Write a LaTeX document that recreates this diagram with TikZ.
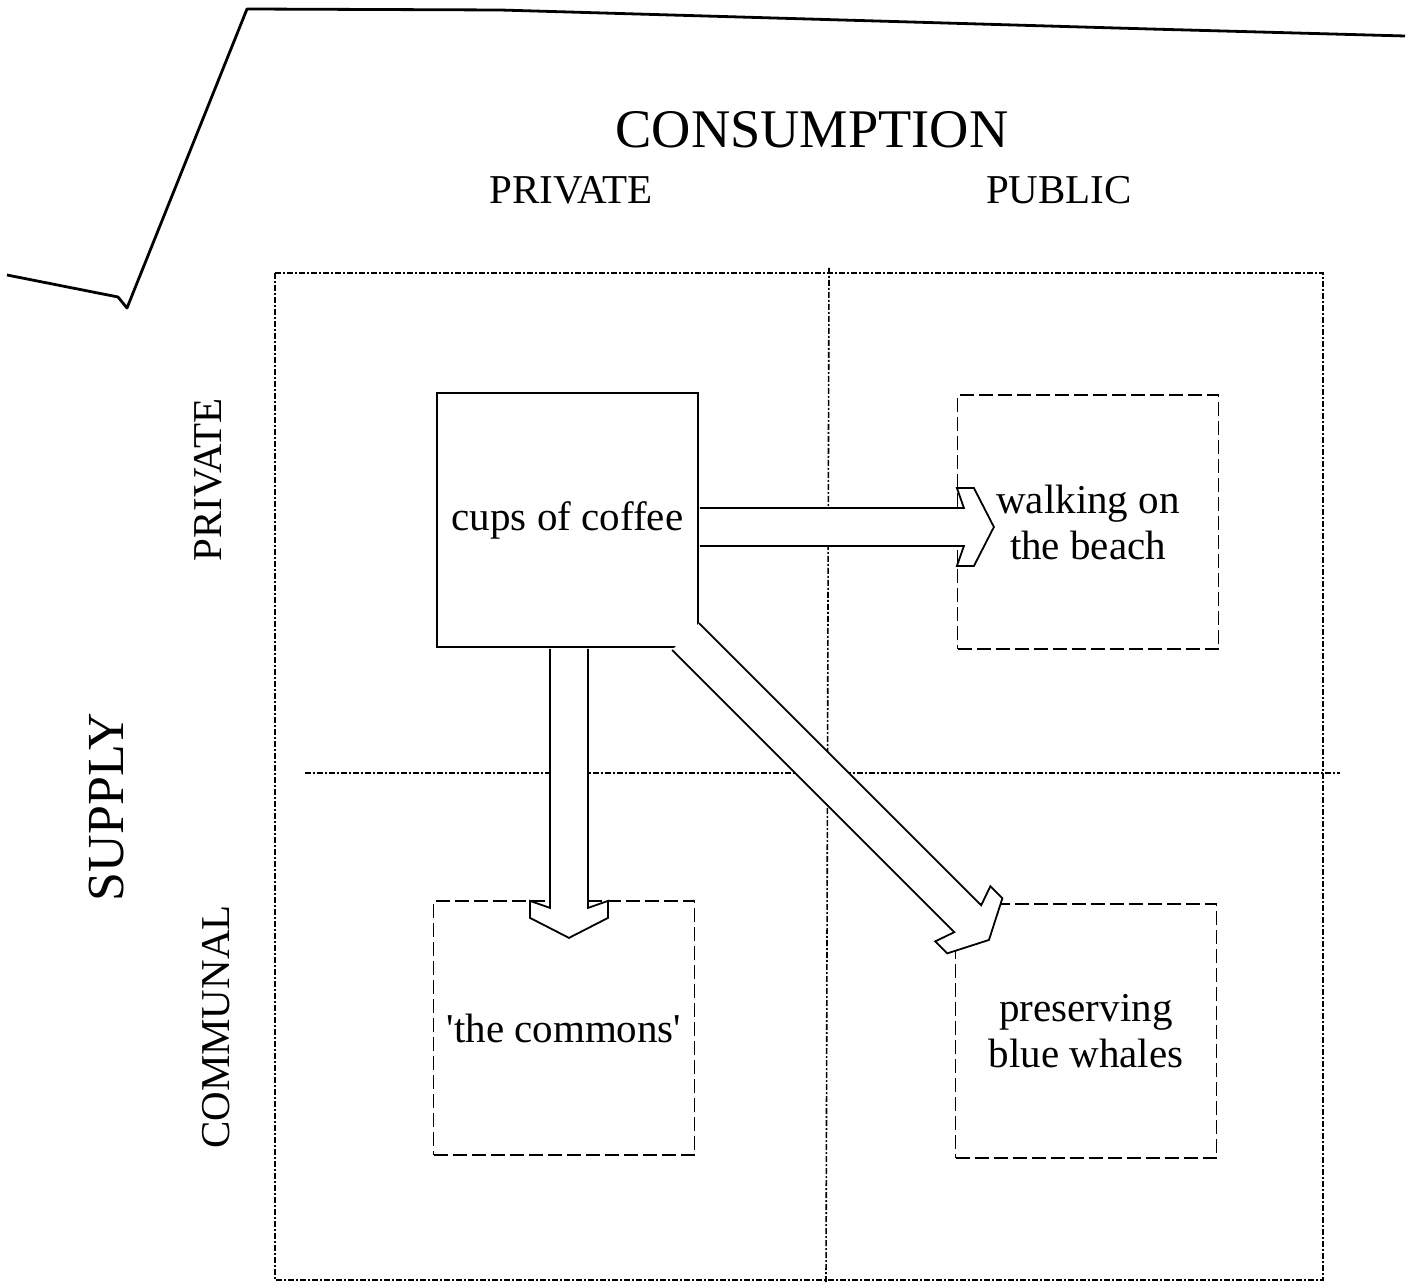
\documentclass[tikz,border=0pt]{standalone}
\usepackage{fontspec}
\setmainfont{Liberation Serif}
\usetikzlibrary{calc}

\tikzset{
  quadline/.style={line width=0.8pt, dash pattern=on 3pt off 1pt on 1pt off 1pt},
  goodbox/.style={minimum width=130.5pt, minimum height=127pt, inner sep=0pt,
    align=center, line width=0.9pt, font=\fontsize{20.5}{23}\selectfont},
  solidbox/.style={goodbox, draw},
  dashbox/.style={goodbox, draw, dash pattern=on 7pt off 2.5pt},
  headlabel/.style={inner sep=0pt, font=\fontsize{20.5}{24}\selectfont},
  titlelabel/.style={inner sep=0pt, font=\fontsize{27.2}{32}\selectfont},
  arrowbody/.style={draw, fill=white, line width=0.9pt, line join=miter},
  pics/blockarrow/.style={code={
    \path[arrowbody] (1,-19) -- (#1,-19) -- (#1-7,-39) -- (#1+10,-39) -- (#1+30,0)
      -- (#1+10,39) -- (#1-7,39) -- (#1,19) -- (1,19);
  }},
}

\begin{document}
\begin{tikzpicture}[x=0.5pt, y=-0.5pt]
      \useasboundingbox (0,0) rectangle (1414,1288);

      % Folded page edge
      \draw[line width=1.4pt, line join=round] (7,275) -- (118,297) -- (127,308)
        -- (247,9) -- (500,10) -- (1150,29) -- (1405,36);

      % Frame and quadrants
      \draw[quadline] (275,273) rectangle (1323,1280);
      \draw[quadline] (829,268) -- (826,1282);
      \draw[quadline] (305,773) -- (1340,773);

      % Goods
      \node[solidbox] (coffee) at (567.5,520)  {cups of coffee};
      \node[dashbox]  (beach)  at (1088,522)   {walking on\\the beach};
      \node[dashbox]  (commons) at (564,1028)  {\textquotesingle the commons\textquotesingle};
      \node[dashbox]  (whales) at (1086,1031)  {preserving\\blue whales};

      % Block arrows
      \pic at ($(coffee.east)+(0,7)$) {blockarrow=265};
      \pic[rotate=-90] at ($(coffee.south)+(1.5,0)$) {blockarrow=260};
      \pic[rotate=-45] at ($(coffee.south east)+(-14,-12)$) {blockarrow=400};

      % Labels
      \node[titlelabel] (consumption) at (812,130) {CONSUMPTION};
      \node[headlabel] (cprivate) at (571,190) {PRIVATE};
      \node[headlabel] (cpublic) at (1059,190) {PUBLIC};
      \node[titlelabel, rotate=90, font=\fontsize{26}{30}\selectfont] (supply) at (107,807) {SUPPLY};
      \node[headlabel, rotate=90] (sprivate) at (208,480) {PRIVATE};
      \node[headlabel, rotate=90] (scommunal) at (216,1027) {COMMUNAL};
    \end{tikzpicture}
\end{document}
